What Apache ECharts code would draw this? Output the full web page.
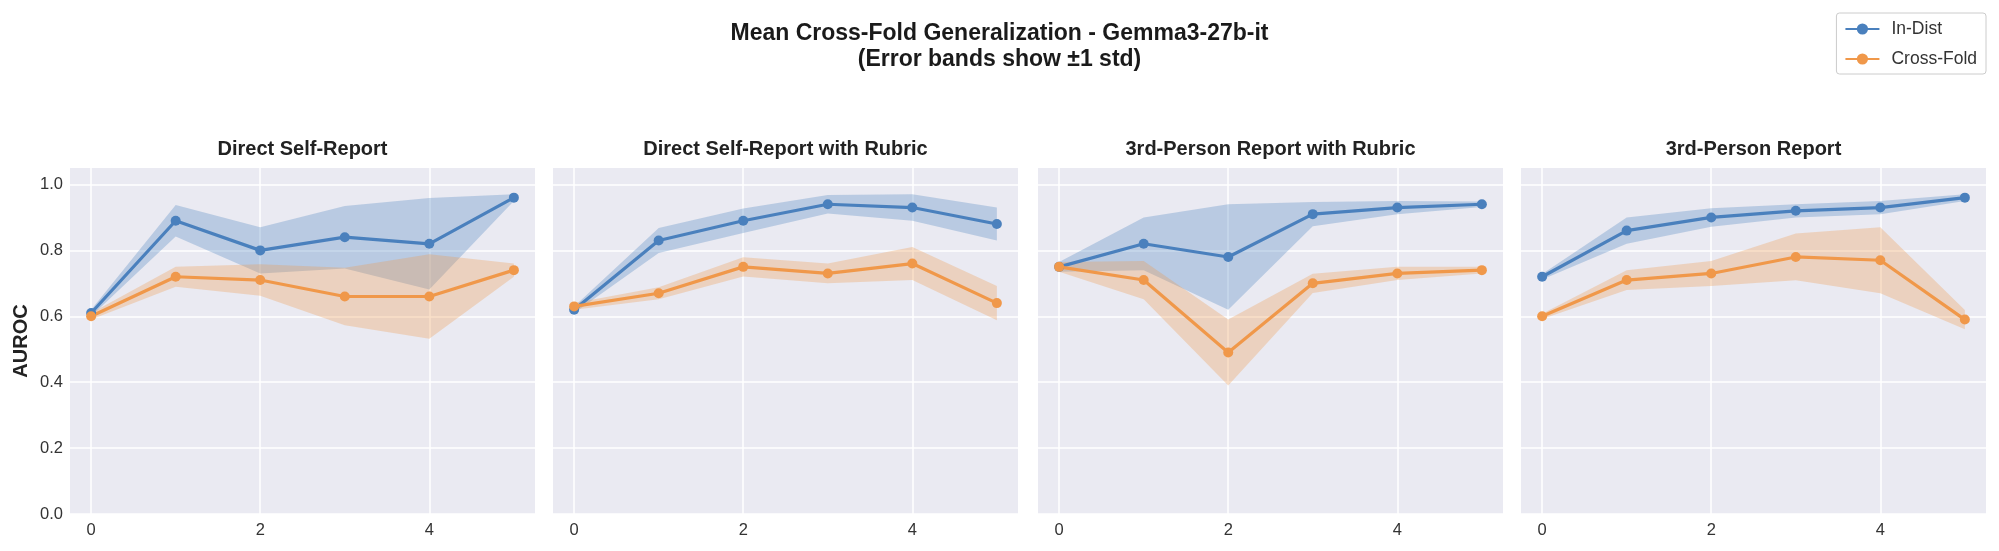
<!DOCTYPE html>
<html>
<head>
<meta charset="utf-8">
<script src="https://cdn.jsdelivr.net/npm/echarts@6/dist/echarts.min.js"></script>
<style>
  html, body { margin: 0; padding: 0; background: #fff; }
  #chart { width: 1999px; height: 551px; }
</style>
</head>
<body>
<div id="chart"></div>
<script>
// 資料: 每個面板的平均值與標準差
const xSteps = [0, 1, 2, 3, 4, 5];
const xTickValues = [0, 2, 4];
const yTickValues = [0, 0.2, 0.4, 0.6, 0.8, 1.0];
const panelTitles = ['Direct Self-Report', 'Direct Self-Report with Rubric', '3rd-Person Report with Rubric', '3rd-Person Report'];

const selfInDist = [0.61, 0.89, 0.80, 0.84, 0.82, 0.96];
const selfInDistStd = [0.01, 0.048, 0.07, 0.095, 0.139, 0.01];
const selfCross = [0.60, 0.72, 0.71, 0.66, 0.66, 0.74];
const selfCrossStd = [0.01, 0.03, 0.048, 0.087, 0.128, 0.02];

const rubricInDist = [0.62, 0.83, 0.89, 0.94, 0.93, 0.88];
const rubricInDistStd = [0.01, 0.038, 0.037, 0.028, 0.04, 0.05];
const rubricCross = [0.63, 0.67, 0.75, 0.73, 0.76, 0.64];
const rubricCrossStd = [0.01, 0.018, 0.029, 0.03, 0.05, 0.052];

const thirdRubricInDist = [0.75, 0.82, 0.78, 0.91, 0.93, 0.94];
const thirdRubricInDistStd = [0.015, 0.08, 0.16, 0.037, 0.02, 0.008];
const thirdRubricCross = [0.75, 0.71, 0.49, 0.70, 0.73, 0.74];
const thirdRubricCrossStd = [0.015, 0.058, 0.10, 0.029, 0.02, 0.01];

const thirdInDist = [0.72, 0.86, 0.90, 0.92, 0.93, 0.96];
const thirdInDistStd = [0.008, 0.04, 0.028, 0.02, 0.02, 0.01];
const thirdCross = [0.60, 0.71, 0.73, 0.78, 0.77, 0.59];
const thirdCrossStd = [0.008, 0.03, 0.038, 0.071, 0.10, 0.029];

const inDistMeans = [selfInDist, rubricInDist, thirdRubricInDist, thirdInDist];
const inDistStds = [selfInDistStd, rubricInDistStd, thirdRubricInDistStd, thirdInDistStd];
const crossMeans = [selfCross, rubricCross, thirdRubricCross, thirdCross];
const crossStds = [selfCrossStd, rubricCrossStd, thirdRubricCrossStd, thirdCrossStd];

const BLUE = '#4a80bd';
const ORANGE = '#f0984a';
const FONT = '"Liberation Sans", Arial, sans-serif';

const gridLefts = [70, 553, 1038, 1521];
const gridWidth = 465;
const gridTop = 168;
const gridHeight = 346;

// 誤差帶: 用 custom series 畫一個多邊形 (mean ± std)
function bandSeries(i, name, mean, std, color) {
    return {
        type: 'custom', name: name + ' band', xAxisIndex: i, yAxisIndex: i,
        silent: true, z: 1,
        data: mean.map((m, k) => [xSteps[k], m - std[k], m + std[k]]),
        encode: { x: 0, y: [1, 2] },
        renderItem: function (params, api) {
            if (params.dataIndexInside !== 0) return null;
            const n = params.dataInsideLength;
            const upper = [], lower = [];
            for (let k = 0; k < n; k++) {
                upper.push(api.coord([api.value(0, k), api.value(2, k)]));
                lower.push(api.coord([api.value(0, k), api.value(1, k)]));
            }
            return {
                type: 'polygon',
                shape: { points: upper.concat(lower.reverse()) },
                style: { fill: color, opacity: 0.3 }
            };
        }
    };
}

function meanSeries(i, name, mean, color) {
    return {
        type: 'line', name: name, xAxisIndex: i, yAxisIndex: i,
        data: mean.map((m, k) => [xSteps[k], m]),
        symbol: 'circle', symbolSize: 10, z: 3,
        lineStyle: { color: color, width: 3.2 },
        itemStyle: { color: color }
    };
}

function initChart() {
    const chart = echarts.init(document.getElementById('chart'));

    const grids = [], xAxes = [], yAxes = [], series = [];
    const titles = [{
        text: 'Mean Cross-Fold Generalization - Gemma3-27b-it\n(Error bands show ±1 std)',
        left: 'center', top: 21, padding: 0,
        textStyle: { fontFamily: FONT, fontSize: 23, fontWeight: 'bold', color: '#1a1a1a', lineHeight: 26 }
    }];

    for (let i = 0; i < 4; i++) {
        grids.push({
            left: gridLefts[i], top: gridTop, width: gridWidth, height: gridHeight,
            show: true, backgroundColor: '#eaeaf2', borderWidth: 0
        });
        xAxes.push({
            type: 'value', gridIndex: i, min: -0.25, max: 5.25,
            axisLine: { show: false },
            axisTick: { show: false, customValues: xTickValues },
            axisLabel: { customValues: xTickValues, fontFamily: FONT, fontSize: 16.5, color: '#333', margin: 8 },
            splitLine: { show: true, lineStyle: { color: '#fff', width: 1.5 } }
        });
        yAxes.push({
            type: 'value', gridIndex: i, min: 0, max: 1.05,
            axisLine: { show: false },
            axisTick: { show: false, customValues: yTickValues },
            axisLabel: {
                show: i === 0, customValues: yTickValues, fontFamily: FONT, fontSize: 16.5, color: '#333', margin: 7,
                formatter: v => v.toFixed(1)
            },
            splitLine: { show: true, lineStyle: { color: '#fff', width: 1.5 } }
        });
        titles.push({
            text: panelTitles[i], left: gridLefts[i] + gridWidth / 2, top: 139, textAlign: 'center', padding: 0,
            textStyle: { fontFamily: FONT, fontSize: 20, fontWeight: 'bold', color: '#222' }
        });

        series.push(bandSeries(i, 'In-Dist', inDistMeans[i], inDistStds[i], BLUE));
        series.push(bandSeries(i, 'Cross-Fold', crossMeans[i], crossStds[i], ORANGE));
        series.push(meanSeries(i, 'In-Dist', inDistMeans[i], BLUE));
        series.push(meanSeries(i, 'Cross-Fold', crossMeans[i], ORANGE));
    }

    const option = {
        animation: false,
        backgroundColor: '#fff',
        title: titles,
        legend: {
            data: ['In-Dist', 'Cross-Fold'],
            orient: 'vertical', right: 13, top: 13,
            padding: [7, 9, 6, 8], itemGap: 12, itemWidth: 34, itemHeight: 14,
            borderColor: '#cccccc', borderWidth: 1, borderRadius: 3,
            backgroundColor: 'rgba(255,255,255,0.8)',
            textStyle: { fontFamily: FONT, fontSize: 17.5, color: '#333', padding: [0, 0, 0, 7] }
        },
        graphic: [{
            type: 'text', x: 21, y: gridTop + gridHeight / 2, rotation: Math.PI / 2,
            style: { text: 'AUROC', font: 'bold 20px ' + FONT, fill: '#222', align: 'center', verticalAlign: 'middle' }
        }],
        grid: grids,
        xAxis: xAxes,
        yAxis: yAxes,
        series: series
    };

    chart.setOption(option);
}

window.onload = function () {
    initChart();
};
</script>
</body>
</html>
